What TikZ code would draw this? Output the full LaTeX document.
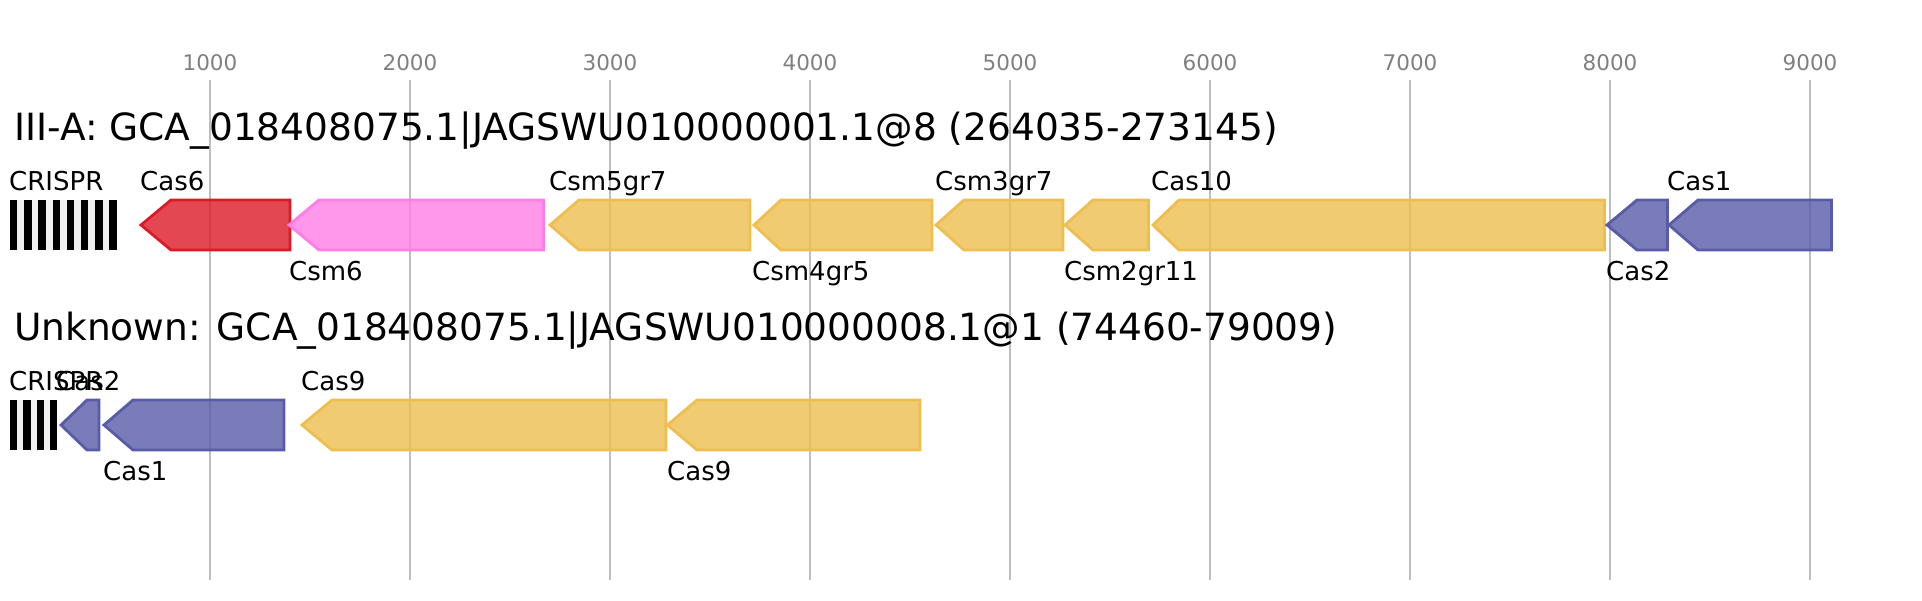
\documentclass[tikz,border=0pt]{standalone}
\usepackage{fontspec}
\setmainfont{DejaVu Sans}
\definecolor{gridgray}{RGB}{190,190,190}
\definecolor{axisgray}{RGB}{128,128,128}
\definecolor{crisprbg}{RGB}{240,240,240}
\definecolor{cred}{RGB}{220,26,38}
\definecolor{cpink}{RGB}{255,125,230}
\definecolor{cyellow}{RGB}{238,190,78}
\definecolor{cblue}{RGB}{88,92,168}
\newcommand{\genearrow}[6]{%
  % #1 tip, #2 head, #3 right, #4 top, #5 bottom, #6 colour
  \path[genebox=#6] (#1,{(#4+#5)/2}) -- (#2,#4) -- (#3,#4) -- (#3,#5) -- (#2,#5) -- cycle;}
\tikzset{
  genebox/.style={draw=#1, fill=#1, fill opacity=0.8, line width=2.8pt, line join=miter},
  gridline/.style={draw=gridgray, line width=2pt},
  axislabel/.style={anchor=base, inner sep=0pt, text=axisgray, font=\fontsize{21.5}{24}\selectfont},
  titlelabel/.style={anchor=base west, inner sep=0pt, font=\fontsize{37.5}{42}\selectfont},
  genelabel/.style={anchor=base west, inner sep=0pt, font=\fontsize{26}{30}\selectfont},
}
\begin{document}
\begin{tikzpicture}[x=1pt,y=-1pt]
\useasboundingbox[fill=white] (0,0) rectangle (1922,600);
% grid and axis
\foreach \k in {1,...,9}{
  \draw[gridline] ({10+200*\k},80) -- ({10+200*\k},580);
  \node[axislabel] (ax\k) at ({10+200*\k},70) {\k000};
}
% titles
\node[titlelabel] (t1) at (14,140.7) {III-A: GCA\_018408075.1|JAGSWU010000001.1@8 (264035-273145)};
\node[titlelabel] (t2) at (14,340.7) {Unknown: GCA\_018408075.1|JAGSWU010000008.1@1 (74460-79009)};
% row 1 CRISPR array
\fill[crisprbg] (10,200) rectangle (116.7,250);
\foreach \i in {0,...,7}{
  \fill[black] ({10+14.2*\i},200) rectangle ({17.3+14.2*\i},250);
}
% row 1 genes
\genearrow{141}{171}{290}{200}{250}{cred}
\genearrow{289}{319}{543.5}{200}{250}{cpink}
\genearrow{550}{579}{750}{200}{250}{cyellow}
\genearrow{754}{781}{932}{200}{250}{cyellow}
\genearrow{936}{964}{1063}{200}{250}{cyellow}
\genearrow{1065}{1093}{1148.5}{200}{250}{cyellow}
\genearrow{1153}{1179}{1604.5}{200}{250}{cyellow}
\genearrow{1607}{1637}{1667.5}{200}{250}{cblue}
\genearrow{1669}{1698}{1831.5}{200}{250}{cblue}
% row 1 labels
\node[genelabel] (r1crispr) at (9,190) {CRISPR};
\node[genelabel] (r1cas6) at (140,190) {Cas6};
\node[genelabel] (r1csm5) at (549,190) {Csm5gr7};
\node[genelabel] (r1csm3) at (935,190) {Csm3gr7};
\node[genelabel] (r1cas10) at (1151,190) {Cas10};
\node[genelabel] (r1cas1) at (1667,190) {Cas1};
\node[genelabel] (r1csm6) at (289,280) {Csm6};
\node[genelabel] (r1csm4) at (752,280) {Csm4gr5};
\node[genelabel] (r1csm2) at (1064,280) {Csm2gr11};
\node[genelabel] (r1cas2) at (1606,280) {Cas2};
% row 2 CRISPR array
\fill[crisprbg] (10,400) rectangle (57.3,450);
\foreach \i in {0,...,3}{
  \fill[black] ({10+13.33*\i},400) rectangle ({17.3+13.33*\i},450);
}
% row 2 genes
\genearrow{61}{87}{99}{400}{450}{cblue}
\genearrow{104}{133}{284}{400}{450}{cblue}
\genearrow{302}{332}{666}{400}{450}{cyellow}
\genearrow{667.5}{697}{920}{400}{450}{cyellow}
% row 2 labels
\node[genelabel] (r2crispr) at (9,390) {CRISPR};
\node[genelabel] (r2cas2) at (56,390) {Cas2};
\node[genelabel] (r2cas9a) at (301,390) {Cas9};
\node[genelabel] (r2cas1) at (103,480) {Cas1};
\node[genelabel] (r2cas9b) at (667,480) {Cas9};
\end{tikzpicture}
\end{document}
